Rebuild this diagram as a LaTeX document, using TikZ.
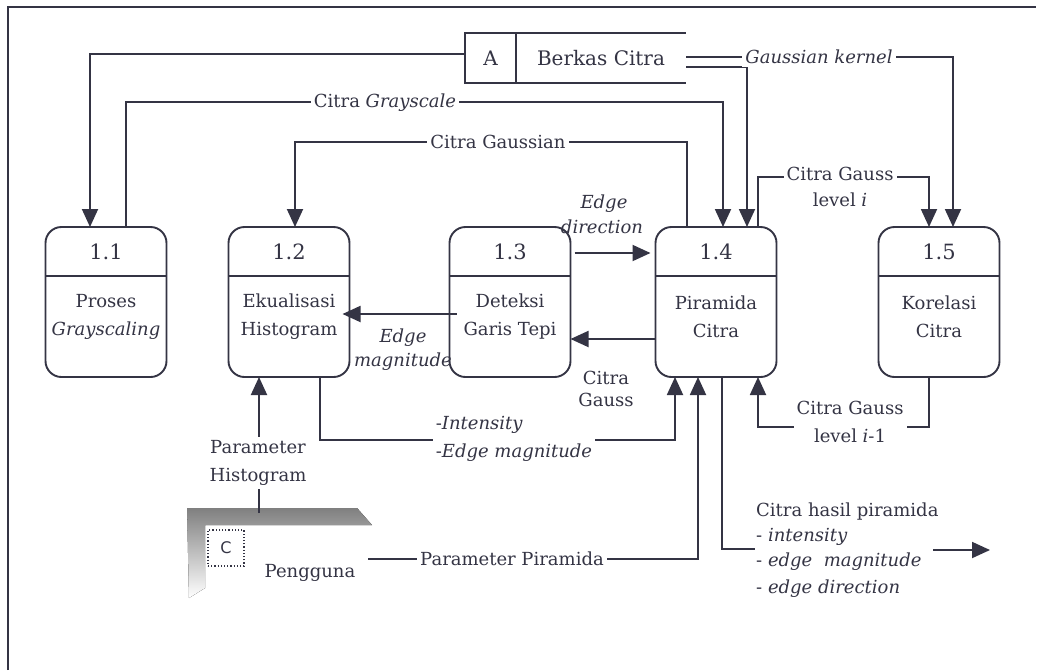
\documentclass[tikz,border=0pt]{standalone}
\usepackage{fontspec}
\setmainfont{DejaVu Serif}
\setsansfont{DejaVu Sans}
\usetikzlibrary{arrows.meta,calc}
\definecolor{ink}{RGB}{52,52,68}
\definecolor{shade}{RGB}{188,188,192}
\newcommand\procnode[4]{%
  \node[procbox] (#1) at (#2,302) {};
  \draw[line] ($(#1.north west)+(0,49)$) -- ($(#1.north east)+(0,49)$);
  \node[txt,font=\fontsize{21}{28}\selectfont] (#1n) at ($(#1.north)+(0,25)$) {#3};
  \node[txt] (#1t) at ($(#1.north)+(0,90)$) {#4};
}
\begin{document}
\begin{tikzpicture}[x=1pt,y=-1pt,
  line/.style={draw=ink,line width=1.9pt},
  flow/.style={line,-{Triangle[width=16pt,length=18pt]}},
  procbox/.style={draw=ink,line width=1.9pt,rounded corners=16pt,minimum width=121pt,minimum height=150pt,inner sep=0pt,outer sep=0pt},
  txt/.style={text=ink,font=\fontsize{18}{28}\selectfont,inner sep=1pt,align=center},
  lbl/.style={txt,fill=white,inner sep=3pt}]
\useasboundingbox (0,0) rectangle (1041,670);
\fill[white] (0,0) rectangle (1041,670);
% frame
\draw[line,line width=1.5pt] (8,670) -- (8,7) -- (1036,7);
% data store
\node[txt,draw=ink,line width=1.9pt,minimum width=51pt,minimum height=50pt,inner sep=0pt,outer sep=0pt,font=\fontsize{20}{24}\selectfont] (dsA) at (490.5,58) {A};
\node[txt,minimum width=170pt,minimum height=50pt,inner sep=0pt,outer sep=0pt,font=\fontsize{20}{24}\selectfont] (dsB) at (601,58) {Berkas Citra};
\draw[line] (dsA.north east) -- (dsB.north east);
\draw[line] (dsA.south east) -- (dsB.south east);
% processes
\procnode{p11}{106}{1.1}{Proses\\\textit{Grayscaling}}
\procnode{p12}{289}{1.2}{Ekualisasi\\Histogram}
\procnode{p13}{510}{1.3}{Deteksi\\Garis Tepi}
\procnode{p14}{716}{1.4}{Piramida\\Citra}
\procnode{p15}{939}{1.5}{Korelasi\\Citra}
% external entity
\fill[shade] (187,508) -- (357,508) -- (372,525) -- (205,525) -- (205,588) -- (189,598) -- cycle;
\node[minimum width=185pt,minimum height=90pt,inner sep=0pt,outer sep=0pt] (ent) at (279.5,553) {};
\node[txt,draw=ink,dotted,line width=1.2pt,minimum width=36pt,minimum height=36pt,font=\sffamily\fontsize{16}{18}\selectfont] (entC) at (226,548) {C};
\node[txt] (entName) at (310,573) {Pengguna};
% connectors
\draw[flow] ($(dsA.west)+(0,-4)$) -| ($(p11.north)+(-16,0)$);
\draw[flow] ($(p11.north)+(20,0)$) -- ++(0,-125) -| ($(p14.north)+(7,0)$);
\draw[flow] ($(p14.north)+(-29,0)$) -- ++(0,-85) -| ($(p12.north)+(6,0)$);
\draw[flow] ($(dsB.east)+(0,-1)$) -| ($(p15.north)+(14,0)$);
\draw[flow] ($(dsB.east)+(0,9)$) -| ($(p14.north)+(31,0)$);
\draw[flow] ($(p14.north)+(42,0)$) -- ++(0,-50) -| ($(p15.north)+(-10,0)$);
\draw[flow] ($(p13.east)+(4,-49)$) -- ($(p14.west)+(-5,-49)$);
\draw[flow] ($(p14.west)+(0,37)$) -- ($(p13.east)+(0,37)$);
\draw[flow] ($(p13.west)+(7,12)$) -- ($(p12.east)+(-7,12)$);
\draw[flow] ($(p12.south)+(31,0)$) -- ++(0,63) -| ($(p14.south)+(-41,0)$);
\draw[flow] ($(ent.north)+(-20.5,5)$) -- ($(p12.south)+(-30,0)$);
\draw[flow] ($(ent.east)+(-4,6)$) -| ($(p14.south)+(-18,0)$);
\draw[flow] ($(p15.south)+(-10,0)$) -- ++(0,50) -| ($(p14.south)+(42,0)$);
\coordinate (outEnd) at (755,549);
\draw[line] ($(p14.south)+(6,0)$) |- (outEnd);
\coordinate (outA) at (933,550);
\coordinate (outB) at (990,550);
\draw[flow] (outA) -- (outB);
% labels
\node[lbl] (lGray) at (385,103) {Citra \textit{Grayscale}};
\node[lbl] (lGaussian) at (498,142) {Citra Gaussian};
\node[lbl] (lKernel) at (819,57) {\textit{Gaussian kernel}};
\node[lbl] (lGi1) at (840,174) {Citra Gauss};
\node[txt] (lGi2) at (840,200) {level \textit{i}};
\node[txt] (lEd1) at (604,204) {\textit{Edge}};
\node[txt] (lEd2) at (602,227) {\textit{direction}};
\node[txt] (lCG1) at (606,378) {Citra};
\node[txt] (lCG2) at (606,400) {Gauss};
\node[txt] (lEm1) at (403,338) {\textit{Edge}};
\node[txt] (lEm2) at (403,362) {\textit{magnitude}};
\node[lbl,align=left] (lInt) at (514,439) {-\textit{Intensity}\\-\textit{Edge magnitude}};
\node[lbl] (lPH) at (258,463) {Parameter\\Histogram};
\node[lbl] (lPP) at (512,559) {Parameter Piramida};
\node[lbl] (lGm) at (850,422) {Citra Gauss\\level \textit{i}-1};
\node[txt,anchor=west] (lOut1) at (755,512) {Citra hasil piramida};
\node[txt,anchor=west] (lOut2) at (755,537) {- \textit{intensity}};
\node[txt,anchor=west] (lOut3) at (755,562) {- \textit{edge\ \ magnitude}};
\node[txt,anchor=west] (lOut4) at (755,589) {- \textit{edge direction}};
\end{tikzpicture}
\end{document}
